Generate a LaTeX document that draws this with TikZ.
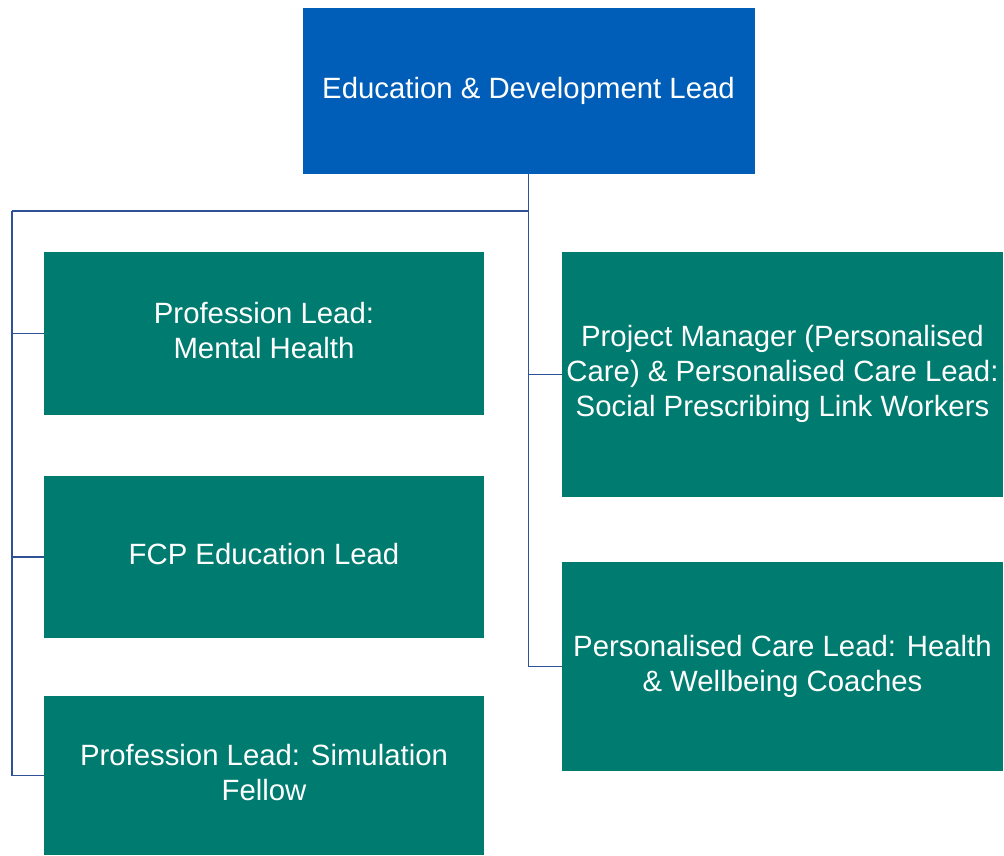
\documentclass[tikz,border=0pt]{standalone}
\usepackage{fontspec}
\setmainfont{Liberation Sans}
\usepackage{tikz}
\definecolor{topblue}{RGB}{0,94,184}
\definecolor{roleteal}{RGB}{0,123,112}
\definecolor{linkblue}{RGB}{47,82,150}

\begin{document}
\begin{tikzpicture}[x=0.75pt,y=0.75pt,yscale=-1,xscale=1,
  lead/.style={rectangle,fill=topblue,draw=none,inner sep=0pt,text=white,align=center,
    text depth=5pt,font=\fontsize{22}{26.25}\selectfont},
  role/.style={rectangle,fill=roleteal,draw=none,inner sep=0pt,text=white,align=center,
    text depth=5pt,font=\fontsize{22}{26.25}\selectfont},
  link/.style={draw=linkblue,line width=0.8pt}]
\useasboundingbox (0,0) rectangle (1004,856);

% Top box
\node [lead,minimum width=339pt,minimum height=124.5pt] (top) at (528.5,91) {Education \& Development Lead};

% Left column
\node [role,minimum width=330pt,minimum height=122.25pt] (mh) at (264,333.5) {Profession Lead:\\Mental Health};
\node [role,minimum width=330pt,minimum height=121.25pt] (fcp) at (264,557) {FCP Education Lead};
\node [role,minimum width=330pt,minimum height=119.25pt] (sim) at (264,775.5) {Profession Lead: Simulation\\Fellow};

% Right column
\node [role,minimum width=330.75pt,minimum height=183.75pt] (pm) at (782.5,374.5) {Project Manager (Personalised\\Care) \& Personalised Care Lead:\\Social Prescribing Link Workers};
\node [role,minimum width=330.75pt,minimum height=156.5pt] (hw) at (782.5,666.5) {Personalised Care Lead: Health\\\& Wellbeing Coaches};

% Connectors
\coordinate (hub) at (528,211);
\coordinate (lft) at (12,211);
\draw [link] (top.south) -- (top.south |- hub) -- (lft);
\draw [link] (lft) |- (mh.west);
\draw [link] (lft) |- (fcp.west);
\draw [link] (lft) |- (sim.west);
\draw [link] (top.south |- hub) |- (pm.west);
\draw [link] (top.south |- hub) |- (hw.west);

\end{tikzpicture}
\end{document}
